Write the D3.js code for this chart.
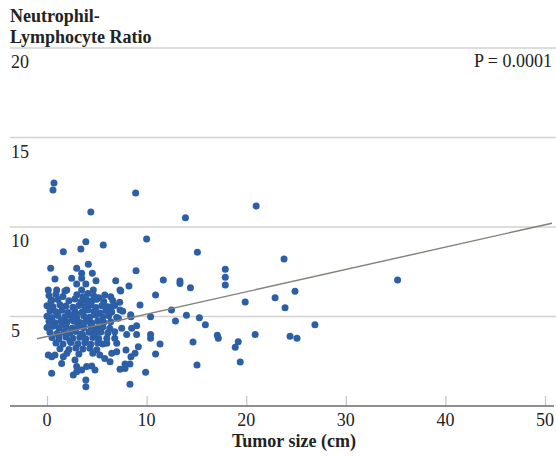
<!DOCTYPE html>
<html>
<head>
<meta charset="utf-8">
<script src="https://cdn.jsdelivr.net/npm/d3@7"></script>
<style>
  html, body { margin: 0; padding: 0; background: #fff; }
</style>
</head>
<body>
<svg id="chart" width="556" height="460"></svg>
<script>
// ---- data ----
const yTicks = [5, 10, 15, 20];
const xTicks = [0, 10, 20, 30, 40, 50];
const yTitleLines = ["Neutrophil-", "Lymphocyte Ratio"];
const xTitle = "Tumor size (cm)";
const pLabel = "P = 0.0001";
const regIntercept = 3.88;
const regSlope = 0.1249;
const regRange = [-1, 50.7];

const tumorSize = [
  0.7, 0.6, 8.9, 4.4, 21.0, 13.9, 10.0, 3.9, 3.4, 5.65, 1.64, 15.1, 23.8, 17.9, 17.9, 17.9, 35.2, 13.35, 13.35,
  14.4, 19.9, 22.9, 24.9, 23.9, 14.0, 15.3, 15.9, 26.9, 17.1, 17.2, 14.66, 20.9, 24.4, 25.1, 19.2, 18.9, 15.06, 19.4,
  8.94, 6.9, 11.68, 8.23, 7.33,
  0.37, 2.98, 4.15, 4.55, 3.48, 3.48, 0.8, 2.48, 4.92, 2.98, 3.9, 0.13, 0.97, 1.98, 3.48, 4.65,
  1.8, 0.47,
  7.4, 10.9, 9.34, 12.5, 12.9, 10.4, 8.43, 9.0, 8.5, 9.0, 10.4, 10.4, 7.33, 6.5, 7.16, 7.5, 6.3, 6.8, 8.0, 6.0, 6.8,
  6.0, 7.0, 9.17, 11.35, 7.93, 8.84, 10.9, 6.5, 7.0, 6.33, 8.43, 7.83, 8.33, 7.33, 7.83, 9.9, 8.33,
  0.47, 3.9, 3.9, 2.64, 2.98, 0.13, 0.47, 0.8, 1.47, 1.64, 2.81, 2.98, 3.98, 4.49, 4.82, 3.48, 5.3, 5.8,
  0.2, 0.9, 1.6, 3.0, 3.6, 4.1, 4.7, 5.2, 5.8, 6.4,
  0.4, 1.1, 2.2, 2.8, 3.4, 4.0, 4.5, 5.0, 5.7, 6.6, 7.3,
  0.0, 0.6, 1.3, 1.9, 2.6, 3.2, 3.8, 4.4, 4.9, 5.5, 6.1, 6.8,
  0.3, 0.9, 1.5, 2.1, 2.8, 3.5, 4.1, 4.7, 5.3, 5.9, 6.5, 7.6,
  0.0, 0.5, 1.1, 1.8, 2.4, 3.0, 3.7, 4.3, 4.9, 5.6, 6.2, 7.0, 8.4,
  0.2, 0.8, 1.4, 2.0, 2.7, 3.3, 3.9, 4.5, 5.1, 5.7, 6.4,
  0.0, 0.6, 1.2, 1.9, 2.5, 3.1, 3.7, 4.4, 5.0, 5.6,
  0.3, 1.0, 1.7, 2.3, 2.9, 3.5, 4.2, 4.8, 5.4, 6.1,
  0.5, 1.2, 1.9, 2.6, 3.3, 3.9, 4.6, 5.2,
  0.9, 1.6, 2.4, 3.1, 3.8, 4.4, 5.1, 5.6,
  1.3, 2.2, 2.9, 3.6, 4.3, 5.0,
  2.0, 3.2, 4.6,
  1.5, 2.5, 3.4, 4.2, 2.9, 3.9, 1.2, 4.8, 2.3, 3.6, 3.1, 4.1
];
const nlr = [
  12.46, 12.07, 11.9, 10.84, 11.17, 10.52, 9.33, 9.18, 8.77, 9.0, 8.62, 8.59, 8.21, 7.64, 7.19, 6.76, 7.04, 6.98, 6.85,
  6.6, 5.81, 6.05, 6.41, 5.49, 5.07, 4.93, 4.54, 4.54, 3.95, 3.78, 3.58, 4.0, 3.89, 3.78, 3.59, 3.28, 2.29, 2.46,
  7.56, 7.0, 7.04, 6.7, 6.48,
  7.69, 7.69, 7.92, 7.41, 7.41, 7.13, 7.09, 7.13, 7.0, 6.82, 6.82, 6.48, 6.48, 6.48, 6.48, 6.48,
  6.42, 5.92,
  6.42, 6.2, 5.64, 5.36, 4.75, 4.99, 4.99, 4.49, 4.34, 4.0, 4.0, 3.78, 5.36, 5.55, 4.9, 4.34, 4.34, 4.15, 4.0, 3.78, 3.78,
  3.5, 3.5, 3.31, 3.46, 3.13, 2.94, 2.9, 2.94, 3.03, 2.47, 2.75, 2.35, 2.35, 2.05, 2.1, 1.88, 1.21,
  1.83, 1.45, 1.08, 1.73, 1.92, 2.85, 2.75, 2.85, 2.38, 2.75, 2.57, 2.2, 2.2, 2.23, 2.01, 2.01, 2.85, 2.66,
  6.18, 6.25, 6.12, 6.22, 6.1, 6.28, 6.15, 6.05, 6.2, 6.1,
  5.85, 5.95, 5.88, 5.98, 5.82, 5.92, 5.86, 5.96, 5.84, 5.9, 5.8,
  5.6, 5.55, 5.65, 5.58, 5.52, 5.62, 5.55, 5.66, 5.5, 5.6, 5.54, 5.62,
  5.32, 5.26, 5.35, 5.22, 5.3, 5.24, 5.36, 5.28, 5.2, 5.34, 5.25, 5.3,
  5.02, 4.95, 5.05, 4.98, 5.06, 4.94, 5.03, 4.96, 5.08, 4.98, 5.04, 4.95, 5.1,
  4.72, 4.65, 4.76, 4.68, 4.74, 4.66, 4.72, 4.64, 4.75, 4.68, 4.7,
  4.38, 4.45, 4.36, 4.42, 4.35, 4.44, 4.38, 4.46, 4.36, 4.42,
  4.12, 4.05, 4.15, 4.08, 4.16, 4.04, 4.12, 4.06, 4.14, 4.08,
  3.82, 3.76, 3.85, 3.78, 3.84, 3.75, 3.83, 3.77,
  3.52, 3.46, 3.55, 3.48, 3.54, 3.45, 3.52, 3.46,
  3.2, 3.15, 3.24, 3.18, 3.22, 3.14,
  2.95, 2.9, 2.95,
  4.55, 4.85, 4.6, 4.9, 5.15, 5.4, 3.95, 4.25, 3.65, 3.9, 4.55, 5.75
];

// ---- drawing ----
const svg = d3.select("#chart");
const FONT = '"Liberation Serif"';
svg.append("rect").attr("width", 556).attr("height", 460).attr("fill", "#fff");

const x = d3.scaleLinear().domain([0, 50]).range([47, 545]);
const y = d3.scaleLinear().domain([0, 20]).range([406, 48]);

// gridlines
svg.append("g").selectAll("line").data(yTicks).join("line")
  .attr("x1", 10).attr("x2", 556)
  .attr("y1", d => y(d)).attr("y2", d => y(d))
  .attr("stroke", "#d2d2d2").attr("stroke-width", 1.6);

// y tick labels (below gridlines, left)
svg.append("g").selectAll("text").data(yTicks).join("text")
  .attr("x", 11).attr("y", d => y(d) + 20)
  .attr("font-size", 18)
  .style("font-family", FONT).attr("fill", "#222")
  .text(d => d);

// y title
svg.append("g").selectAll("text").data(yTitleLines).join("text")
  .attr("x", 10).attr("y", (d, i) => 22 + i * 21)
  .attr("font-size", 18).attr("font-weight", "bold")
  .style("font-family", FONT).attr("fill", "#222")
  .text(d => d);

// P label
svg.append("text").attr("x", 552).attr("y", 67)
  .attr("text-anchor", "end").attr("font-size", 18)
  .style("font-family", FONT).attr("fill", "#222")
  .text(pLabel);

// x axis
const xAxis = d3.axisTop(x).tickValues(xTicks).tickSize(10).tickFormat("");
const gx = svg.append("g").attr("transform", `translate(0,${y(0)})`).call(xAxis);
gx.select(".domain").remove();
gx.selectAll(".tick line").attr("stroke", "#c4c4c4").attr("stroke-width", 1.2);
svg.append("line").attr("x1", 10).attr("x2", 554)
  .attr("y1", y(0)).attr("y2", y(0))
  .attr("stroke", "#6a6a6a").attr("stroke-width", 1.6);

svg.append("g").selectAll("text").data(xTicks).join("text")
  .attr("x", d => x(d)).attr("y", 426)
  .attr("text-anchor", "middle").attr("font-size", 18)
  .style("font-family", FONT).attr("fill", "#222")
  .text(d => d);

svg.append("text").attr("x", 294).attr("y", 447)
  .attr("text-anchor", "middle").attr("font-size", 18).attr("font-weight", "bold")
  .style("font-family", FONT).attr("fill", "#222")
  .text(xTitle);

// points
const pts = tumorSize.map((t, i) => ({ t, v: nlr[i] }));
svg.append("g").selectAll("circle").data(pts).join("circle")
  .attr("cx", d => x(d.t)).attr("cy", d => y(d.v))
  .attr("r", 3.5).attr("fill", "#2c5fa6");

// regression line
svg.append("line")
  .attr("x1", x(regRange[0])).attr("y1", y(regIntercept + regSlope * regRange[0]))
  .attr("x2", x(regRange[1])).attr("y2", y(regIntercept + regSlope * regRange[1]))
  .attr("stroke", "#857f78").attr("stroke-width", 1.4);
</script>
</body>
</html>
